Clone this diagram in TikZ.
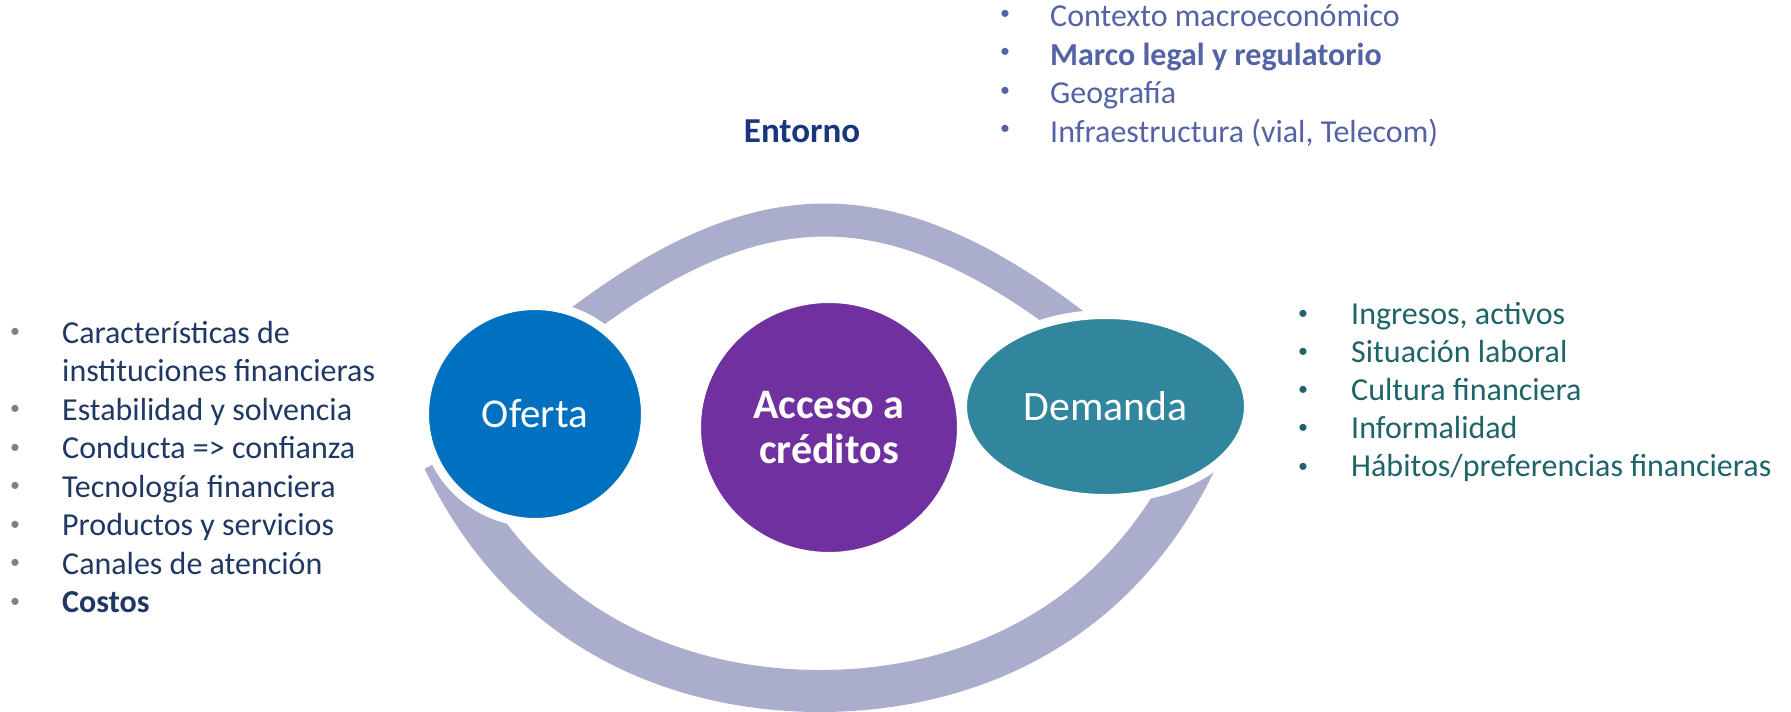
\documentclass[tikz,border=0pt]{standalone}
\usepackage{fontspec}
\setmainfont{Carlito}
\usetikzlibrary{shapes.geometric}
\definecolor{ringc}{RGB}{170,173,204}
\definecolor{ofertac}{RGB}{0,112,192}
\definecolor{accesoc}{RGB}{112,48,160}
\definecolor{demandac}{RGB}{49,133,156}
\definecolor{navyt}{RGB}{31,56,100}
\definecolor{slatet}{RGB}{84,98,166}
\definecolor{tealt}{RGB}{30,100,104}
\definecolor{entornoc}{RGB}{23,54,125}
\definecolor{grayb}{RGB}{128,128,128}
\newcommand\listsize{\fontsize{32}{38}\selectfont}
\newcommand\bulsize{\fontsize{20}{24}\selectfont}
\begin{document}
\begin{tikzpicture}[x=1pt,y=-1pt,
  ring/.style={draw=ringc, line cap=butt, line join=round},
  bubble/.style={ellipse, draw=white, line width=9pt, inner sep=0pt, text=white},
  item/.style={anchor=base west, inner sep=0pt, font=\listsize},
  bul/.style={anchor=center, inner sep=0pt, font=\bulsize}]
\fill[white] (0,0) rectangle (1791,712);
\useasboundingbox (0,0) rectangle (1791,712);
% ring arcs
\coordinate (ta) at (564,334);
\coordinate (tm) at (825,220);
\coordinate (tb) at (1086,334);
\draw[ring, line width=33pt] (ta) .. controls (635,279) and (725,220) .. (tm)
  .. controls (925,220) and (1015,279) .. (tb);
\coordinate (ba) at (443.5,459.5);
\coordinate (bm) at (820,691);
\coordinate (bb) at (1196.5,459.5);
\coordinate (bc) at (1204,443.5);
\draw[ring, line width=42pt] (ba) .. controls (529.5,639.5) and (690,691) .. (bm)
  .. controls (950,691) and (1110.5,639.5) .. (bb) -- (bc);
% bubbles
\node[bubble, fill=ofertac, minimum width=221pt, minimum height=217pt, font=\fontsize{41}{48}\selectfont] (oferta) at (535,414) {Oferta};
\node[bubble, fill=accesoc, minimum width=265pt, minimum height=258pt, font=\bfseries\fontsize{42}{45.5}\selectfont, align=center] (acceso) at (829,427.5) {Acceso a\\créditos};
\node[bubble, fill=demandac, minimum width=286pt, minimum height=184pt, font=\fontsize{41.8}{48}\selectfont] (demanda) at (1105.5,406.5) {Demanda};
% Entorno
\node[anchor=base, inner sep=0pt, text=entornoc, font=\bfseries\fontsize{35}{40}\selectfont] (entorno) at (802,142) {Entorno};
% top list
\begin{scope}[every node/.append style={text=slatet}]
\node[bul] (tb1) at (1005,15) {•};
\node[bul] (tb2) at (1005,53.3) {•};
\node[bul] (tb3) at (1005,91.6) {•};
\node[bul] (tb4) at (1005,130) {•};
\node[item] (t1) at (1050,27) {Contexto macroeconómico};
\node[item] (t2) at (1050,65.3) {\textbf{Marco legal y regulatorio}};
\node[item] (t3) at (1050,103.6) {Geografía};
\node[item] (t4) at (1050,142) {Infraestructura (vial, Telecom)};
\end{scope}
% right list
\begin{scope}[every node/.append style={text=tealt}]
\node[bul] (rb1) at (1303,315) {•};
\node[bul] (rb2) at (1303,353) {•};
\node[bul] (rb3) at (1303,391) {•};
\node[bul] (rb4) at (1303,429.3) {•};
\node[bul] (rb5) at (1303,467.7) {•};
\node[item] (r1) at (1351,324) {Ingresos, activos};
\node[item] (r2) at (1351,362) {Situación laboral};
\node[item] (r3) at (1351,400) {Cultura financiera};
\node[item] (r4) at (1351,438.3) {Informalidad};
\node[item] (r5) at (1351,476.7) {Hábitos/preferencias financieras};
\end{scope}
% left list
\begin{scope}[every node/.append style={text=navyt}]
\node[bul, text=grayb] (lb1) at (15,333) {•};
\node[bul, text=grayb] (lb2) at (15,410) {•};
\node[bul, text=grayb] (lb3) at (15,448.5) {•};
\node[bul, text=grayb] (lb4) at (15,487) {•};
\node[bul, text=grayb] (lb5) at (15,525.5) {•};
\node[bul, text=grayb] (lb6) at (15,564) {•};
\node[bul, text=grayb] (lb7) at (15,602.5) {•};
\node[item] (l1) at (62,343) {Características de};
\node[item] (l1b) at (62,381.5) {instituciones financieras};
\node[item] (l2) at (62,420) {Estabilidad y solvencia};
\node[item] (l3) at (62,458.5) {Conducta => confianza};
\node[item] (l4) at (62,497) {Tecnología financiera};
\node[item] (l5) at (62,535.5) {Productos y servicios};
\node[item] (l6) at (62,574) {Canales de atención};
\node[item] (l7) at (62,612.5) {\textbf{Costos}};
\end{scope}
\end{tikzpicture}
\end{document}
